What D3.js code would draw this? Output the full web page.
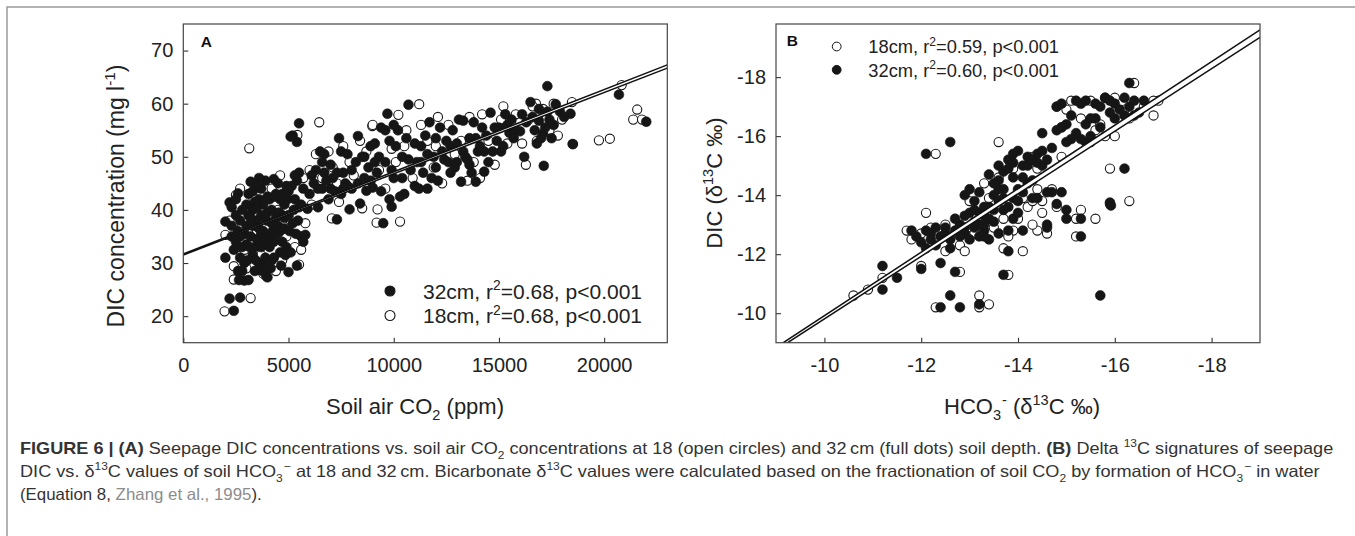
<!DOCTYPE html>
<html>
<head>
<meta charset="utf-8">
<script src="https://cdn.jsdelivr.net/npm/d3@7"></script>
<style>
  html, body { margin: 0; padding: 0; background: #fff; }
  svg { display: block; font-family: "Liberation Sans", Arial, sans-serif; }
</style>
</head>
<body>
<svg id="fig" width="1355" height="536"></svg>
<script>
// ---- panel A: soil air CO2 (ppm) vs DIC (mg/l) ----
const a32 = [
  [2000,31],[2000,37.8],[2200,23.3],[2400,21],[2700,23.5],[2200,41.4],[2600,43.1],[2500,39],
  [2300,35],[2400,32.5],[2600,36],[2700,38],[2800,33],[2900,30],[2900,26.7],[2600,28.5],
  [2800,40],[2500,42],[2900,35.5],[2300,37],[2700,31],[3000,41],[3000,37],
  [3100,26.8],[3200,45.3],[3100,43],[3300,40],[3200,35],[3400,33],[3500,38],[3600,42],
  [3700,44],[3800,36],[3900,31],[3850,29.5],[3950,27.5],[3600,30],[3300,31.5],[3500,34.5],
  [3700,39],[3400,28.5],[3800,41],[3900,45.5],[3600,46],[3300,37],[3500,44.5],[3700,33],
  [3100,39],[3950,38],
  [4000,27.3],[4100,35],[4200,40],[4300,45.8],[4400,43],[4500,37],[4600,32],[4700,34],
  [4800,41],[4900,44.5],[4200,30.5],[4400,38.5],[4600,42],[4800,36.5],[4100,33],[4300,31],
  [4500,45],[4700,39],[4900,33],[4000,42.5],[4250,36],[4650,29.5],
  [2300,40.5],[2500,34],[2700,35],[2800,28.5],[3000,33.5],[3200,38.5],[3300,43.5],[3400,41.5],
  [3500,40.5],[3600,36.5],[3700,35.5],[3800,33.5],[3900,34.5],[4000,39.5],[4100,42],[4200,37.5],
  [4300,34],[4350,42.5],[4450,35.5],[4550,39.5],[4700,43],[4800,38.5],[4850,31.5],[4950,42],
  [5050,36],[5250,40],[5350,35.5],[5450,38],[3450,30.5],[3750,28.5],[4150,29],[3050,30.5],
  [2650,26.8],[3150,33],[4600,36],[5000,43.5],[5500,47],
  [5000,28.3],[5100,32],[5200,37.5],[5300,42],[5400,45.5],[5500,40.5],[5600,35],[5700,34],
  [5800,35.3],[5400,29.5],[5500,56.3],[5200,54],[5400,52.8],[5100,53.8],[5300,46.5],
  [5600,41],[5900,40.2],[5000,39],[5700,44],[5150,44.5],
  [6000,43],[6200,45],[6400,40.5],[6500,51],[6600,49],[6700,47],[6800,45.5],[7000,44],
  [7200,43.5],[7300,38.2],[7400,53.5],[7500,51],[7600,47],[7700,45],[7800,50.5],[7900,40.1],
  [6300,47.5],[6900,42],[7100,46],[7500,43],[6600,44],[7800,44.5],
  [6100,46.5],[6400,44],[6700,50.5],[7000,48.5],[7300,47],[7600,44],[8000,47.5],[8300,45],
  [8600,50],[8900,45.5],[9100,52.5],[9400,55.5],[9600,49],[9900,47.5],[10100,52],[10400,46],
  [10700,49.5],[11000,52.5],[11300,49],[11600,50.5],[12000,53.5],[12400,49.5],[12700,52],
  [13000,49],[13300,51],[13600,48.5],[13900,53.5],[14300,51],[14800,55.5],[15100,51],
  [15600,57],[16100,58],[16600,57.5],[16900,59],[17300,58.5],[17600,56],
  [8000,44],[8200,49],[8300,53.9],[8400,41.2],[8500,50],[8600,46],[8800,48],[8900,52],
  [9000,44.2],[9200,47],[9300,50],[9500,37.5],[9600,55],[9700,58.1],[9800,42],[9900,40.6],
  [9400,43.5],[8700,43.6],[9100,49],[9800,53],[10000,56],[10000,46],
  [10200,55],[10400,50],[10600,53.5],[10700,59.8],[10800,47.5],[11000,44.5],[11200,44],
  [11300,52],[11500,54],[11600,44],[11800,46],[11900,50],[10500,43],[11100,49],[10300,42.5],
  [11700,56.5],[11400,47],
  [12000,48],[12100,45.5],[12300,51],[12500,53],[12600,49],[12800,55],[12900,48],[13000,52.5],
  [13200,45.3],[13300,56.8],[13400,50],[13600,53.5],[13700,47],[13900,45.3],[14000,51],
  [12200,55.5],[13100,57],[13800,56.5],[12700,47],[13500,49.5],
  [14100,52],[14300,47.2],[14400,54],[14600,58.3],[14700,51],[14900,53],[15000,55.5],
  [15200,52],[15400,56],[15500,54.5],[15800,55],[16000,54.8],[14500,49],[15300,58],
  [15700,53.5],[14200,55.5],
  [16200,50],[16300,56.5],[16500,60.3],[16700,55],[16900,56.8],[17000,53.5],[17100,54.4],
  [17130,48.3],[17300,63.3],[17400,57],[17500,53.5],[17700,59.9],[17900,58.5],[18100,57.5],
  [18400,58.1],[18500,52.4],[16800,52.5],[17200,55.5],
  [20700,61.7],[22000,56.6]
];
const a18 = [
  [1960,20.9],[2000,35.3],[2400,29.4],[2400,26.9],[3200,23.4],[2500,42.8],[3135,51.6],
  [5500,29.7],[6460,56.5],[5420,54.1],[8980,55.8],[11210,59.9],[10220,57.9],[7060,38.4],
  [9185,37.6],[10300,37.8],[8500,40.3],[9230,40.1],[16280,48.5],[15210,59.5],[16760,60],
  [18470,60.3],[18520,52.4],[19750,53.1],[20830,63.5],[21570,58.9],[21380,57],[21800,57],
  [20270,53.4],
  [2200,38],[2600,33],[2800,37],[3000,29],[2900,32.5],[3300,42.5],[3500,36],[3700,31.5],
  [4000,34],[4200,44],[4500,40],[4700,30.5],[4900,35],[5100,38],[5300,33],[5600,32.5],
  [5800,37.5],[5700,46],[3800,28],[4400,28.5],[5200,41],[6000,47.5],[6100,41],[3400,45],
  [2700,44],[4600,46.5],
  [6300,50.5],[6600,46],[6900,51],[7100,48],[7300,45],[7600,52],[7900,49],[8100,46.5],
  [8400,53],[8700,51],[9000,56],[9300,47.5],[9600,44],[9900,51.5],[10100,49],[10500,52],
  [10900,46],[11300,56],[11600,53],[12000,52],[12300,45],[12600,56],[12900,50.5],[13200,53],
  [13500,45.5],[13800,49],[14200,58],[14500,53],[14800,48.5],[15100,57],[15400,52.5],
  [15800,58],[16100,52.5],[16400,57],[16800,53],[17100,59],[17400,55],[17800,54],[18000,57],
  [10600,55],[11900,48],[8800,44.5],[7400,41.5],[12100,57.5],[13600,57.5],[14100,46],
  [15600,56],[16600,59.5],[17600,60]
];
// regression lines A, [x0, y0, x1, y1]
const aFits = [[0, 31.7, 23000, 67.3], [0, 31.5, 23000, 66.7]];
const aXTicks = [0, 5000, 10000, 15000, 20000];
const aYTicks = [20, 30, 40, 50, 60, 70];

// ---- panel B: HCO3- d13C vs DIC d13C ----
const b32 = [
  [-12.6,-15.8],[-12.1,-15.4],[-15.9,-13.75],[-15.92,-13.65],[-16.2,-14.9],[-15.7,-10.6],
  [-12.4,-10.2],[-12.8,-10.2],[-13.2,-10.3],[-12.6,-10.6],[-12.4,-11.7],[-12.7,-11.4],
  [-13.7,-11.3],[-13.8,-12.1],[-12.0,-11.5],[-11.2,-11.6],[-11.2,-10.8],[-11.5,-11.2],
  [-15.3,-12.6],[-15.3,-13.2],[-16.3,-17.8],[-14.1,-12.8],[-12.9,-14.0],
  [-11.8,-12.8],[-11.9,-12.6],[-12.0,-12.4],[-12.1,-12.8],[-12.2,-12.5],[-12.3,-12.9],
  [-12.4,-12.6],[-12.5,-12.7],[-12.6,-12.5],[-12.7,-12.8],[-12.8,-12.6],[-12.9,-12.7],
  [-13.0,-12.5],[-13.1,-12.9],[-13.2,-12.6],[-13.3,-12.8],[-13.4,-12.5],[-13.6,-12.7],
  [-13.8,-12.8],[-12.1,-12.2],[-12.3,-12.3],[-12.6,-12.2],
  [-13.0,-13.4],[-13.1,-13.8],[-13.2,-14.1],[-13.3,-13.6],[-13.4,-13.2],[-13.5,-14.0],
  [-13.6,-14.5],[-13.7,-14.8],[-13.6,-15.0],[-13.8,-15.2],[-13.9,-14.6],[-14.0,-15.5],
  [-14.1,-15.0],[-14.2,-15.3],[-14.3,-14.5],[-14.4,-15.4],[-14.5,-15.5],[-14.3,-13.9],
  [-14.2,-14.4],[-14.4,-13.9],[-13.8,-13.6],[-13.9,-13.2],[-13.7,-13.9],[-13.5,-13.5],
  [-13.3,-13.0],[-13.1,-13.1],[-12.9,-13.3],[-12.8,-13.0],[-13.0,-14.2],[-13.2,-13.4],
  [-14.0,-13.4],[-14.5,-16.1],[-14.7,-14.1],[-14.9,-14.1],[-14.8,-13.7],[-15.0,-13.5],
  [-15.0,-13.2],[-14.6,-13.0],[-14.6,-12.9],[-13.6,-14.2],[-13.4,-14.7],[-13.9,-15.1],
  [-13.2,-13.0],[-13.4,-13.6],[-13.5,-14.4],[-13.6,-13.8],[-13.7,-14.2],[-13.8,-14.9],
  [-13.9,-15.4],[-14.0,-14.2],[-14.1,-14.6],[-14.2,-15.0],[-14.3,-15.2],[-14.4,-15.1],
  [-13.3,-13.3],[-13.1,-13.5],[-12.9,-12.9],[-12.7,-13.2],[-13.5,-13.1],[-13.7,-13.5],
  [-13.9,-13.9],[-14.6,-14.1],[-14.1,-14.1],[-13.3,-12.6],[-12.8,-12.9],[-12.5,-12.9],
  [-12.2,-12.7],[-14.7,-15.6],[-15.1,-16.7],[-15.4,-17.2],[-15.1,-15.9],[-15.4,-16.4],
  [-16.0,-16.6],[-16.2,-16.7],[-14.5,-15.0],[-14.0,-13.8],
  [-14.8,-16.2],[-14.8,-17.0],[-14.9,-17.1],[-15.0,-16.4],[-15.0,-15.8],[-15.2,-16.1],
  [-15.3,-17.1],[-15.4,-15.8],[-15.5,-16.0],[-15.5,-16.6],[-15.6,-17.1],[-15.7,-16.3],
  [-15.8,-17.3],[-15.9,-16.8],[-16.0,-17.1],[-16.1,-16.9],[-16.2,-17.3],[-16.3,-17.0],
  [-16.4,-17.2],[-16.5,-16.8],[-16.6,-17.2],[-15.6,-16.6],[-15.2,-17.2],[-14.9,-16.3],
  [-15.3,-15.9],[-16.4,-16.7],[-15.9,-17.2],[-15.7,-17.0],[-14.6,-15.2]
];
const b18 = [
  [-10.6,-10.6],[-10.9,-10.8],[-11.2,-11.2],[-11.7,-12.8],[-11.8,-12.5],[-12.1,-13.4],
  [-12.3,-15.4],[-13.6,-15.8],[-16.3,-13.8],[-15.9,-14.9],[-15.9,-13.7],[-16.8,-16.7],
  [-16.9,-17.2],[-16.4,-17.8],[-14.9,-15.3],[-12.3,-10.2],[-13.2,-10.6],[-13.4,-10.3],
  [-13.2,-10.2],[-12.8,-11.4],[-13.8,-11.3],[-14.1,-12.1],[-12.0,-11.6],[-15.2,-12.6],
  [-15.6,-13.2],[-15.3,-13.5],[-15.2,-13.2],[-14.6,-12.7],[-14.4,-12.8],[-14.3,-13.0],
  [-14.5,-13.4],[-14.2,-13.6],[-14.0,-13.2],[-13.9,-12.8],[-13.8,-12.6],[-14.5,-13.8],
  [-14.3,-13.8],[-14.7,-14.2],[-14.8,-13.6],[-12.5,-12.1],[-12.8,-12.3],[-12.5,-13.0],
  [-12.2,-12.9],[-13.0,-12.6],[-13.5,-12.9],[-13.6,-14.6],[-13.9,-14.9],[-14.3,-15.3],
  [-14.4,-14.9],[-13.7,-13.2],[-13.4,-13.9],[-13.0,-13.8],[-14.8,-17.0],[-15.1,-17.2],
  [-15.3,-16.6],[-15.6,-16.2],[-15.8,-16.0],[-16.0,-16.0],[-16.2,-16.9],[-16.6,-17.0],
  [-16.8,-17.2],[-15.5,-17.2],[-15.8,-17.3],[-16.0,-17.3],[-14.9,-16.3],[-15.0,-16.9],
  [-15.5,-15.8],[-15.7,-16.4],[-16.3,-16.6],[-13.3,-14.4],[-13.1,-12.7],[-12.6,-12.6],
  [-12.0,-12.7],[-14.1,-13.9],[-14.4,-14.2],[-13.7,-12.2],[-12.9,-12.1]
];
const bFits = [[-9.15, -9, -19, -19.6], [-9.24, -9, -19, -19.35]];
const bXTicks = [-10, -12, -14, -16, -18];
const bYTicks = [-10, -12, -14, -16, -18];

const svg = d3.select('#fig');
svg.append('rect').attr('width', 1355).attr('height', 536).attr('fill', '#fff');

// outer figure frame (only top and left edges are inside the view)
svg.append('path')
  .attr('d', 'M7,536V7H1355')
  .attr('fill', 'none')
  .attr('stroke', '#9a9a9a')
  .attr('stroke-width', 1.5);

/**
 * write a run of text pieces, kinds: sup, sub, b, link
 */
function richText(sel, parts, fs) {
  let shift = 0;
  parts.forEach(([t, k, dx]) => {
    const ts = sel.append('tspan').text(t);
    let target = 0;
    if (k === 'sup') target = -0.4 * fs;
    if (k === 'sub') target = 0.28 * fs;
    if (k === 'sup' || k === 'sub') ts.attr('font-size', fs * 0.66);
    if (dx) ts.attr('dx', dx);
    if (k === 'b') ts.attr('font-weight', 'bold');
    if (k === 'link') ts.attr('fill', '#8c8c8c');
    if (target !== shift) {
      ts.attr('dy', target - shift);
      shift = target;
    }
  });
  return sel;
}

const W = 484, H = 318.7, TOP = 24;

function panel(left, xDomain, yDomain, xTicks, yTicks, open, filled, fits, id) {
  const x = d3.scaleLinear().domain(xDomain).range([0, W]);
  const y = d3.scaleLinear().domain(yDomain).range([H, 0]);
  const g = svg.append('g').attr('transform', `translate(${left},${TOP})`);

  g.append('clipPath').attr('id', `clip${id}`)
    .append('rect').attr('width', W).attr('height', H);

  const xAxis = g.append('g').attr('transform', `translate(0,${H})`)
    .call(d3.axisBottom(x).tickValues(xTicks).tickSize(-5).tickPadding(15).tickFormat(d3.format('d')));
  const yAxis = g.append('g')
    .call(d3.axisLeft(y).tickValues(yTicks).tickSize(-5).tickPadding(10).tickFormat(d3.format('d')));
  [xAxis, yAxis].forEach((a) => {
    a.select('.domain').remove();
    a.selectAll('line').attr('stroke', '#333').attr('stroke-width', 1.1);
    a.selectAll('text').attr('font-size', 20).attr('fill', '#222')
      .attr('font-family', '"Liberation Sans", Arial, sans-serif');
    a.selectAll('text').text((d) => (d < 0 ? '-' + Math.abs(d) : d));
  });

  const plot = g.append('g').attr('clip-path', `url(#clip${id})`);
  plot.selectAll('circle.open').data(open).join('circle')
    .attr('class', 'open')
    .attr('cx', (d) => x(d[0])).attr('cy', (d) => y(d[1])).attr('r', 4.6)
    .attr('fill', '#fff').attr('stroke', '#1a1a1a').attr('stroke-width', 1.1);
  plot.selectAll('circle.full').data(filled).join('circle')
    .attr('class', 'full')
    .attr('cx', (d) => x(d[0])).attr('cy', (d) => y(d[1])).attr('r', 4.9)
    .attr('fill', '#161616').attr('stroke', '#161616').attr('stroke-width', 0.6);

  // white gap between the two fitted lines, then the lines themselves
  const [f1, f2] = fits;
  const band = [[f1[0], f1[1]], [f1[2], f1[3]], [f2[2], f2[3]], [f2[0], f2[1]]];
  plot.append('path')
    .attr('d', d3.line().x((d) => x(d[0])).y((d) => y(d[1]))(band) + 'Z')
    .attr('fill', '#fff');
  plot.selectAll('line.fit').data(fits).join('line')
    .attr('class', 'fit')
    .attr('x1', (d) => x(d[0])).attr('y1', (d) => y(d[1]))
    .attr('x2', (d) => x(d[2])).attr('y2', (d) => y(d[3]))
    .attr('stroke', '#111').attr('stroke-width', 1.5);

  g.append('rect').attr('width', W).attr('height', H)
    .attr('fill', 'none').attr('stroke', '#444').attr('stroke-width', 1.2);
  return { g, x, y };
}

// ---- panel A ----
const A = panel(183.3, [0, 23000], [15, 75], aXTicks, aYTicks, a18, a32, aFits, 'A');
A.g.append('text').attr('x', 17.4).attr('y', 22.7)
  .attr('font-size', 15.5).attr('font-weight', 'bold').attr('fill', '#111').text('A');

const legA = [['full', [['32cm, r'], ['2', 'sup'], ['=0.68, p<0.001']]],
              ['open', [['18cm, r'], ['2', 'sup'], ['=0.68, p<0.001']]]];
legA.forEach(([kind, parts], i) => {
  const cy = 291 + i * 24.5;
  svg.append('circle').attr('cx', 390).attr('cy', cy).attr('r', 5)
    .attr('fill', kind === 'full' ? '#161616' : '#fff').attr('stroke', '#161616').attr('stroke-width', 1.1);
  richText(svg.append('text').attr('x', 423).attr('y', cy + 7.5)
    .attr('font-size', 21).attr('fill', '#222'), parts, 21);
});

richText(svg.append('text').attr('x', 415).attr('y', 414).attr('text-anchor', 'middle')
  .attr('font-size', 22).attr('fill', '#222'),
  [['Soil air CO'], ['2', 'sub'], [' (ppm)']], 22);
richText(svg.append('text').attr('transform', 'translate(124,196) rotate(-90)')
  .attr('text-anchor', 'middle').attr('font-size', 23).attr('fill', '#222'),
  [['DIC concentration (mg l'], ['-1', 'sup'], [')']], 23);

// ---- panel B ----
const B = panel(776, [-9, -19], [-9, -19.8], bXTicks, bYTicks, b18, b32, bFits, 'B');
B.g.append('text').attr('x', 10.7).attr('y', 22)
  .attr('font-size', 15.5).attr('font-weight', 'bold').attr('fill', '#111').text('B');

const legB = [['open', [['18cm, r'], ['2', 'sup'], ['=0.59, p<0.001']]],
              ['full', [['32cm, r'], ['2', 'sup'], ['=0.60, p<0.001']]]];
legB.forEach(([kind, parts], i) => {
  const cy = 46.5 + i * 23.3;
  svg.append('circle').attr('cx', 836.7).attr('cy', cy).attr('r', 4.4)
    .attr('fill', kind === 'full' ? '#161616' : '#fff').attr('stroke', '#161616').attr('stroke-width', 1);
  richText(svg.append('text').attr('x', 868.3).attr('y', cy + 6.8)
    .attr('font-size', 18.3).attr('fill', '#222'), parts, 18.3);
});

richText(svg.append('text').attr('x', 1022).attr('y', 414).attr('text-anchor', 'middle')
  .attr('font-size', 22).attr('fill', '#222'),
  [['HCO'], ['3', 'sub'], ['-', 'sup', 1], [' (\u03b4'], ['13', 'sup'], ['C \u2030)']], 22);
richText(svg.append('text').attr('transform', 'translate(722,183) rotate(-90)')
  .attr('text-anchor', 'middle').attr('font-size', 22).attr('fill', '#222'),
  [['DIC (\u03b4'], ['13', 'sup'], ['C \u2030)']], 22);

// ---- caption ----
const caption = [
  [[['FIGURE 6 | (A)', 'b'], [' Seepage DIC concentrations vs. soil air CO'], ['2', 'sub'],
    [' concentrations at 18 (open circles) and 32\u2009cm (full dots) soil depth. '], ['(B)', 'b'],
    [' Delta '], ['13', 'sup'], ['C signatures of seepage']], 1314],
  [[['DIC vs. \u03b4'], ['13', 'sup'], ['C values of soil HCO'], ['3', 'sub'], ['\u2212', 'sup', 1],
    [' at 18 and 32\u2009cm. Bicarbonate \u03b4'], ['13', 'sup'],
    ['C values were calculated based on the fractionation of soil CO'], ['2', 'sub'],
    [' by formation of HCO'], ['3', 'sub'], ['\u2212', 'sup', 1], [' in water']], 1298],
  [[['(Equation 8, '], ['Zhang et al., 1995', 'link'], [').']], 242]
];
caption.forEach(([parts, width], i) => {
  const t = svg.append('text').attr('x', 0).attr('y', 0)
    .attr('font-size', 16.5).attr('fill', '#333');
  richText(t, parts, 16.5);
  const len = t.node().getComputedTextLength();
  t.attr('transform', `translate(20,${454 + i * 23}) scale(${width / len},1)`);
});
</script>
</body>
</html>
